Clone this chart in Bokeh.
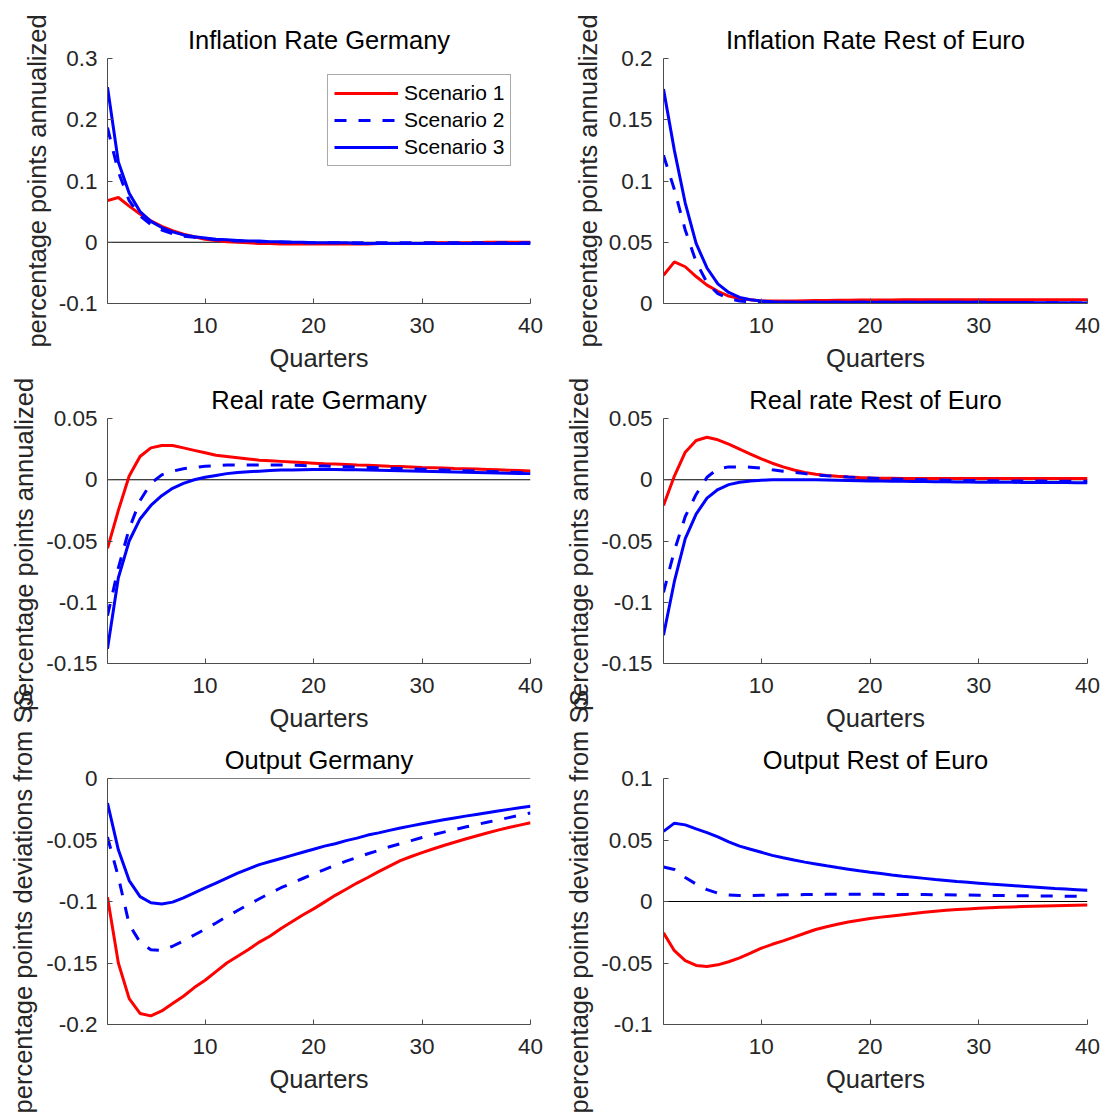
from math import pi
from bokeh.plotting import figure
from bokeh.layouts import row, column
from bokeh.models import Range1d, FixedTicker, Span, Legend, LegendItem, Label
from bokeh.embed import file_html
from bokeh.resources import INLINE

# ---------------- data ----------------
quarters = list(range(1, 41))

infl_de_s1 = [0.068, 0.073, 0.059, 0.046, 0.035, 0.026, 0.019, 0.013, 0.009, 0.005,
              0.003, 0.001, 0.000, -0.001, -0.002, -0.002, -0.003, -0.003, -0.003, -0.003,
              -0.003, -0.003, -0.003, -0.003, -0.003, -0.002, -0.002, -0.002, -0.002, -0.002,
              -0.001, -0.001, -0.001, -0.001, -0.001, 0.000, 0.000, 0.000, 0.000, 0.000]
infl_de_s2 = [0.187, 0.115, 0.068, 0.043, 0.029, 0.020, 0.014, 0.010, 0.008, 0.006,
              0.004, 0.003, 0.002, 0.002, 0.001, 0.001, 0.000, 0.000, -0.001, -0.001,
              -0.001, -0.001, -0.001, -0.001, -0.001, -0.001, -0.001, -0.001, -0.001, -0.001,
              -0.001, -0.001, -0.001, -0.001, -0.001, -0.001, -0.001, -0.001, -0.001, -0.001]
infl_de_s3 = [0.253, 0.131, 0.080, 0.050, 0.034, 0.024, 0.017, 0.012, 0.009, 0.007,
              0.005, 0.004, 0.003, 0.002, 0.002, 0.001, 0.001, 0.000, 0.000, -0.001,
              -0.001, -0.001, -0.001, -0.002, -0.002, -0.002, -0.002, -0.002, -0.002, -0.002,
              -0.002, -0.002, -0.002, -0.002, -0.002, -0.002, -0.002, -0.002, -0.002, -0.002]

infl_eu_s1 = [0.023, 0.034, 0.030, 0.022, 0.015, 0.010, 0.006, 0.004, 0.003, 0.002,
              0.002, 0.002, 0.002, 0.0022, 0.0024, 0.0025, 0.0026, 0.0027, 0.0028, 0.0028,
              0.0029, 0.0029, 0.003, 0.003, 0.003, 0.003, 0.003, 0.003, 0.003, 0.003,
              0.003, 0.003, 0.003, 0.003, 0.003, 0.003, 0.003, 0.003, 0.003, 0.003]
infl_eu_s2 = [0.121, 0.093, 0.060, 0.034, 0.017, 0.008, 0.004, 0.002, 0.0015, 0.0012,
              0.001, 0.001, 0.001, 0.001, 0.001, 0.001, 0.001, 0.001, 0.001, 0.001,
              0.001, 0.001, 0.001, 0.001, 0.001, 0.001, 0.001, 0.001, 0.001, 0.001,
              0.0009, 0.0009, 0.0008, 0.0008, 0.0007, 0.0007, 0.0006, 0.0006, 0.0005, 0.0005]
infl_eu_s3 = [0.175, 0.125, 0.082, 0.049, 0.029, 0.016, 0.009, 0.005, 0.003, 0.002,
              0.0015, 0.0012, 0.0011, 0.001, 0.001, 0.001, 0.001, 0.001, 0.001, 0.001,
              0.001, 0.001, 0.001, 0.001, 0.001, 0.001, 0.001, 0.001, 0.001, 0.001,
              0.0009, 0.0009, 0.0008, 0.0008, 0.0007, 0.0007, 0.0006, 0.0006, 0.0005, 0.0005]

real_de_s1 = [-0.056, -0.025, 0.003, 0.019, 0.026, 0.028, 0.028, 0.026, 0.024, 0.022,
              0.020, 0.019, 0.018, 0.017, 0.016, 0.0155, 0.015, 0.0145, 0.014, 0.0135,
              0.013, 0.0128, 0.0125, 0.012, 0.0118, 0.0115, 0.011, 0.0108, 0.0105, 0.010,
              0.0098, 0.0095, 0.0092, 0.009, 0.0087, 0.0084, 0.0081, 0.0078, 0.0075, 0.0072]
real_de_s2 = [-0.111, -0.072, -0.040, -0.017, -0.003, 0.004, 0.007, 0.009, 0.010, 0.011,
              0.0115, 0.012, 0.012, 0.012, 0.012, 0.012, 0.012, 0.0118, 0.0116, 0.0114,
              0.0112, 0.011, 0.0107, 0.0104, 0.0101, 0.0098, 0.0095, 0.0092, 0.0089, 0.0086,
              0.0083, 0.008, 0.0077, 0.0074, 0.0071, 0.0068, 0.0065, 0.0062, 0.0059, 0.0056]
real_de_s3 = [-0.138, -0.080, -0.050, -0.032, -0.021, -0.013, -0.007, -0.003, 0.000, 0.002,
              0.0035, 0.005, 0.006, 0.0065, 0.007, 0.0075, 0.008, 0.008, 0.0082, 0.0083,
              0.0083, 0.0083, 0.0082, 0.0081, 0.008, 0.0078, 0.0076, 0.0074, 0.0072, 0.007,
              0.0068, 0.0066, 0.0064, 0.0062, 0.006, 0.0058, 0.0056, 0.0054, 0.0052, 0.005]

real_eu_s1 = [-0.021, 0.003, 0.0225, 0.032, 0.0347, 0.0326, 0.029, 0.025, 0.021, 0.017,
              0.0135, 0.0105, 0.008, 0.006, 0.0045, 0.0035, 0.0028, 0.0022, 0.0018, 0.0015,
              0.0013, 0.0012, 0.0011, 0.001, 0.001, 0.001, 0.001, 0.001, 0.001, 0.001,
              0.001, 0.001, 0.001, 0.001, 0.001, 0.001, 0.001, 0.001, 0.001, 0.001]
real_eu_s2 = [-0.092, -0.058, -0.030, -0.012, 0.002, 0.009, 0.0105, 0.0105, 0.0103, 0.0095,
              0.0082, 0.007, 0.006, 0.005, 0.004, 0.0033, 0.0027, 0.0022, 0.0018, 0.0014,
              0.001, 0.0007, 0.0004, 0.0002, 0.0, -0.0002, -0.0004, -0.0005, -0.0006, -0.0007,
              -0.0008, -0.0009, -0.001, -0.001, -0.0011, -0.0011, -0.0012, -0.0012, -0.0013, -0.0013]
real_eu_s3 = [-0.127, -0.083, -0.048, -0.028, -0.015, -0.008, -0.004, -0.002, -0.001, -0.0004,
              0.0, 0.0, 0.0, 0.0, 0.0, -0.0002, -0.0004, -0.0006, -0.0008, -0.001,
              -0.0011, -0.0012, -0.0013, -0.0014, -0.0015, -0.0016, -0.0017, -0.0018, -0.0019, -0.002,
              -0.002, -0.0021, -0.0021, -0.0022, -0.0022, -0.0023, -0.0023, -0.0023, -0.0024, -0.0024]

out_de_s1 = [-0.0965, -0.150, -0.179, -0.191, -0.193, -0.189, -0.183, -0.177, -0.170, -0.164,
             -0.157, -0.150, -0.1445, -0.139, -0.133, -0.128, -0.122, -0.1165, -0.111, -0.106,
             -0.1005, -0.095, -0.090, -0.085, -0.0805, -0.0757, -0.0712, -0.0667, -0.0634, -0.0603,
             -0.0573, -0.0545, -0.0518, -0.0492, -0.0467, -0.0443, -0.042, -0.0399, -0.0379, -0.036]
out_de_s2 = [-0.0477, -0.080, -0.1187, -0.1331, -0.1393, -0.1398, -0.1364, -0.132, -0.1272, -0.1225,
             -0.1175, -0.1122, -0.1073, -0.1024, -0.0978, -0.0932, -0.0888, -0.0851, -0.0813, -0.0775,
             -0.074, -0.0705, -0.0672, -0.0642, -0.0612, -0.0585, -0.0555, -0.053, -0.0505, -0.048,
             -0.0458, -0.0436, -0.0415, -0.0395, -0.0375, -0.0356, -0.0337, -0.0318, -0.0299, -0.028]
out_de_s3 = [-0.020, -0.058, -0.083, -0.096, -0.101, -0.102, -0.1005, -0.097, -0.093, -0.089,
             -0.085, -0.081, -0.077, -0.0735, -0.070, -0.0675, -0.065, -0.0625, -0.060, -0.0575,
             -0.055, -0.053, -0.0505, -0.0485, -0.046, -0.0442, -0.0422, -0.0402, -0.0385, -0.0368,
             -0.0352, -0.0336, -0.0321, -0.0306, -0.0292, -0.0278, -0.0264, -0.0251, -0.0238, -0.0225]

out_eu_s1 = [-0.0255, -0.040, -0.048, -0.052, -0.0528, -0.0515, -0.049, -0.0458, -0.042, -0.038,
             -0.0348, -0.032, -0.029, -0.0258, -0.0228, -0.0205, -0.0185, -0.0167, -0.0152, -0.0139,
             -0.0127, -0.0117, -0.0107, -0.0097, -0.0088, -0.008, -0.0072, -0.0065, -0.006, -0.0055,
             -0.0051, -0.0047, -0.0044, -0.0041, -0.0038, -0.0036, -0.0034, -0.0032, -0.003, -0.0029]
out_eu_s2 = [0.028, 0.026, 0.0195, 0.0142, 0.0097, 0.0068, 0.0053, 0.0048, 0.0048, 0.005,
             0.0052, 0.0054, 0.0055, 0.0056, 0.0057, 0.0058, 0.0058, 0.0058, 0.0058, 0.0058,
             0.0058, 0.0057, 0.0057, 0.0056, 0.0056, 0.0055, 0.0054, 0.0053, 0.0052, 0.0051,
             0.005, 0.0049, 0.0048, 0.0047, 0.0046, 0.0045, 0.0044, 0.0043, 0.0042, 0.0041]
out_eu_s3 = [0.057, 0.0637, 0.0623, 0.059, 0.056, 0.0525, 0.0485, 0.045, 0.0425, 0.040,
             0.0375, 0.0355, 0.0337, 0.032, 0.0305, 0.029, 0.0276, 0.0263, 0.025, 0.0238,
             0.0227, 0.0216, 0.0206, 0.0197, 0.0188, 0.0179, 0.0171, 0.0163, 0.0156, 0.0149,
             0.0142, 0.0136, 0.013, 0.0124, 0.0118, 0.0112, 0.0106, 0.0101, 0.0096, 0.0091]

series_names = ["Scenario 1", "Scenario 2", "Scenario 3"]
titles = ["Inflation Rate Germany", "Inflation Rate Rest of Euro",
          "Real rate Germany", "Real rate Rest of Euro",
          "Output Germany", "Output Rest of Euro"]
x_label = "Quarters"
y_label_infl = "percentage points annualized"
y_label_out = "percentage points deviations from SS"

x_ticks = [10, 20, 30, 40]
yt_infl_de = [-0.1, 0, 0.1, 0.2, 0.3]
yl_infl_de = ["-0.1", "0", "0.1", "0.2", "0.3"]
yt_infl_eu = [0, 0.05, 0.1, 0.15, 0.2]
yl_infl_eu = ["0", "0.05", "0.1", "0.15", "0.2"]
yt_real = [-0.15, -0.1, -0.05, 0, 0.05]
yl_real = ["-0.15", "-0.1", "-0.05", "0", "0.05"]
yt_out_de = [-0.2, -0.15, -0.1, -0.05, 0]
yl_out_de = ["-0.2", "-0.15", "-0.1", "-0.05", "0"]
yt_out_eu = [-0.1, -0.05, 0, 0.05, 0.1]
yl_out_eu = ["-0.1", "-0.05", "0", "0.05", "0.1"]

# ---------------- style ----------------
FONT = "Liberation Sans"
AX = "#262626"
RED = "#FF0000"
BLUE = "#0000FF"
TICK_FS = "22.5px"
LAB_FS = "25.5px"


def panel(title, s1, s2, s3, yticks, ylabels, fw, fh, bl, br, bt, bb,
          ylabel=None, ylabel_standoff=5, ystandoff=10):
    p = figure(frame_width=fw, frame_height=fh,
               x_range=Range1d(1, 40), y_range=Range1d(yticks[0], yticks[-1]),
               output_backend="svg", toolbar_location=None,
               min_border_left=bl, min_border_right=br,
               min_border_top=bt, min_border_bottom=bb)
    p.outline_line_color = None
    p.grid.visible = False
    p.background_fill_color = "white"
    p.border_fill_color = "white"
    p.title.text = title
    p.title.align = "center"
    p.title.text_font = FONT
    p.title.text_font_size = LAB_FS
    p.title.text_font_style = "normal"
    p.title.text_color = "black"
    p.title.standoff = 10
    p.add_layout(Span(location=0, dimension="width", line_color="black",
                      line_width=1, level="underlay"))
    r1 = p.line(quarters, s1, line_color=RED, line_width=3)
    r2 = p.line(quarters, s2, line_color=BLUE, line_width=3, line_dash="12 12")
    r3 = p.line(quarters, s3, line_color=BLUE, line_width=3)
    for ax in (p.xaxis[0], p.yaxis[0]):
        ax.axis_line_color = "#4d4d4d"
        ax.axis_line_width = 1
        ax.major_tick_line_color = "#4d4d4d"
        ax.major_tick_in = 5
        ax.major_tick_out = 0
        ax.minor_tick_line_color = None
        ax.major_label_text_font = FONT
        ax.major_label_text_font_size = TICK_FS
        ax.major_label_text_color = AX
        ax.axis_label_text_font = FONT
        ax.axis_label_text_font_size = LAB_FS
        ax.axis_label_text_font_style = "normal"
        ax.axis_label_text_color = AX
    p.xaxis.ticker = FixedTicker(ticks=x_ticks)
    p.xaxis.major_label_standoff = 14
    p.xaxis.axis_label = x_label
    p.xaxis.axis_label_standoff = 8
    p.yaxis.ticker = FixedTicker(ticks=yticks)
    p.yaxis.major_label_overrides = dict(zip(yticks, ylabels))
    p.yaxis.major_label_standoff = ystandoff
    if ylabel:
        p.yaxis.axis_label = ylabel
        p.yaxis.axis_label_standoff = ylabel_standoff
    return p, (r1, r2, r3)


def label_fig(w, h, labels):
    p = figure(width=w, height=h, x_range=Range1d(0, w), y_range=Range1d(0, h),
               output_backend="svg", toolbar_location=None, min_border=0,
               x_axis_location=None, y_axis_location=None)
    p.outline_line_color = None
    p.grid.visible = False
    p.border_fill_color = "white"
    p.background_fill_color = "white"
    for (x, y, t) in labels:
        p.add_layout(Label(x=x, y=y, text=t, angle=pi / 2, text_align="center",
                           text_baseline="middle", text_font=FONT,
                           text_font_size=LAB_FS, text_color=AX))
    return p


# row 1 (own y-axis labels): y 0..375
f11, rs = panel(titles[0], infl_de_s1, infl_de_s2, infl_de_s3, yt_infl_de, yl_infl_de,
                423, 245, 107, 30, 58, 72, ylabel=y_label_infl, ylabel_standoff=5)
f12, _ = panel(titles[1], infl_eu_s1, infl_eu_s2, infl_eu_s3, yt_infl_eu, yl_infl_eu,
               424, 245, 103, 14, 58, 72, ylabel=y_label_infl, ylabel_standoff=4, ystandoff=11)

legend = Legend(items=[LegendItem(label=series_names[i], renderers=[rs[i]]) for i in range(3)],
                location=(220, 137), orientation="vertical",
                label_text_font=FONT, label_text_font_size="21px", label_text_color="black",
                glyph_width=64, glyph_height=24, label_height=24, label_standoff=6,
                spacing=3, padding=6, margin=0,
                border_line_color="#555555", border_line_width=1,
                background_fill_color="white", background_fill_alpha=1.0)
f11.add_layout(legend)

# rows 2 (375..735) and 3 (735..1114)
f21, _ = panel(titles[2], real_de_s1, real_de_s2, real_de_s3, yt_real, yl_real,
               423, 245, 67, 30, 43, 72)
f22, _ = panel(titles[3], real_eu_s1, real_eu_s2, real_eu_s3, yt_real, yl_real,
               424, 245, 65, 14, 43, 72, ystandoff=11)
f31, _ = panel(titles[4], out_de_s1, out_de_s2, out_de_s3, yt_out_de, yl_out_de,
               423, 246, 67, 30, 43, 90)
f32, _ = panel(titles[5], out_eu_s1, out_eu_s2, out_eu_s3, yt_out_eu, yl_out_eu,
               424, 246, 65, 14, 43, 90, ystandoff=11)

labL = label_fig(40, 739, [(23, 570, y_label_infl), (22, 213, y_label_out)])
labR = label_fig(38, 739, [(18, 570, y_label_infl), (18, 213, y_label_out)])

layout = column(
    row(f11, f12),
    row(labL, column(f21, f31), labR, column(f22, f32)),
)

open("out.html", "w").write(file_html(layout, INLINE))
